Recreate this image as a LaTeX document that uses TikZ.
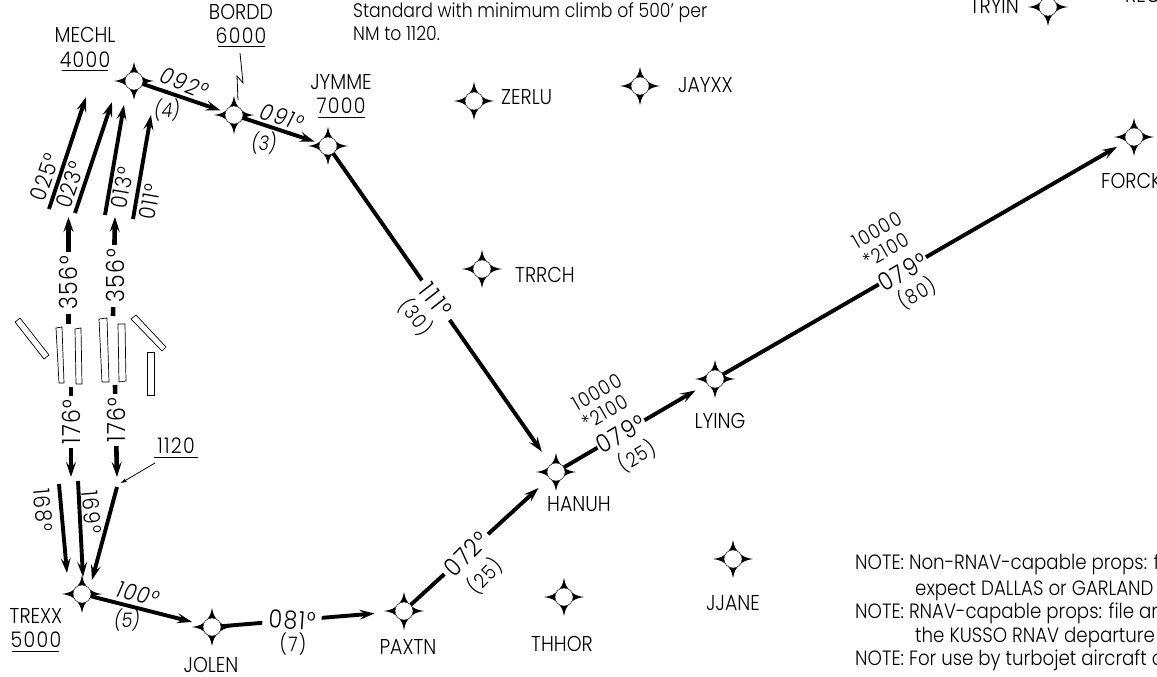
\documentclass[tikz,border=0pt]{standalone}
\usepackage{fontspec}
\setmainfont{Poppins Light}[FakeStretch=0.88]
\newfontfamily\lsfont{Poppins Light}[FakeStretch=0.88,LetterSpace=6]
\usetikzlibrary{arrows.meta}
\newcommand\fsz[1]{\fontsize{#1}{#1}\selectfont}
\tikzset{
  route/.style={line width=3.9pt,-{Stealth[length=15pt,width=10pt,inset=6pt]}},
  lead/.style={line width=0.8pt},
  wpnode/.style={circle,fill=white,draw=black,line width=0.3pt,minimum size=18pt,inner sep=0pt},
  txt/.style={inner sep=0pt,font=\fsz{21.5}},
  num/.style={inner sep=0pt,font=\lsfont\fsz{21.5}},
  brg/.style={inner sep=0pt,font=\lsfont\fsz{22.5}},
  small/.style={inner sep=0pt,font=\lsfont\fsz{20}},
  big/.style={inner sep=0pt,font=\lsfont\fsz{25}},
  slant/.style={inner sep=0pt,font=\lsfont\fsz{23}\itshape},
  slantsmall/.style={inner sep=0pt,font=\fsz{20}\itshape},
  mask/.style={fill=white,inner ysep=0pt},
  rwy/.style={draw=black,fill=white,line width=0.7pt},
  ul/.style={line width=1pt},
  notetext/.style={inner sep=0pt,anchor=base west,font=\fsz{20.7}}
}
\newcommand\waypt[2]{%
  \fill[shift={(#2)}] (0,-19) .. controls (1.2,-12) and (3,-9) .. (6.4,-6.4)
    .. controls (9,-3) and (12,-1.2) .. (20,0)
    .. controls (12,1.2) and (9,3) .. (6.4,6.4)
    .. controls (3,9) and (1.2,12) .. (0,19)
    .. controls (-1.2,12) and (-3,9) .. (-6.4,6.4)
    .. controls (-9,3) and (-12,1.2) .. (-20,0)
    .. controls (-12,-1.2) and (-9,-3) .. (-6.4,-6.4)
    .. controls (-3,-9) and (-1.2,-12) .. (0,-19) -- cycle;
  \node[wpnode] (#1) at (#2) {};}
\begin{document}
\begin{tikzpicture}[x=1pt,y=-1pt]
\useasboundingbox (0,0) rectangle (1157,677);
\clip (0,0) rectangle (1157,677);
% waypoints
\waypt{mechl}{134,81}
\waypt{bordd}{234,115}
\waypt{jymme}{328,146}
\waypt{trexx}{82,594}
\waypt{jolen}{212,627}
\waypt{paxtn}{404,611}
\waypt{hanuh}{556,472}
\waypt{lying}{715,379}
\waypt{forck}{1134,137}
\waypt{tryin}{1048,7}
\waypt{zerlu}{474,101}
\waypt{jayxx}{640,86}
\waypt{trrch}{482,269}
\waypt{thhor}{564,597}
\waypt{jjane}{733,559}
% runways
\draw[rwy] (15,322)--(20,318)--(49,355)--(44,359)--cycle;
\draw[rwy] (56,328)--(62,327)--(64,383)--(59,383)--cycle;
\draw[rwy] (75,329)--(81,328)--(82,384)--(76,384)--cycle;
\draw[rwy] (99,319)--(107,318)--(109,382)--(102,382)--cycle;
\draw[rwy] (118,324)--(125,324)--(126,381)--(119,382)--cycle;
\draw[rwy] (131,319)--(136,315)--(166,347)--(162,351)--cycle;
\draw[rwy] (147,352)--(154,352)--(154,395)--(147,395)--cycle;
% free ends
\coordinate (a1) at (49,209); \coordinate (a2) at (86,97);
\coordinate (b1) at (75,213); \coordinate (b2) at (112,102);
\coordinate (c1) at (105,215); \coordinate (c2) at (124,105);
\coordinate (d1) at (133,219); \coordinate (d2) at (151,115);
\coordinate (e1) at (68.5,324); \coordinate (e2) at (68.5,217);
\coordinate (f1) at (113,316); \coordinate (f2) at (115,217);
\coordinate (g1) at (71,387); \coordinate (g2) at (71,477);
\coordinate (h1) at (115,385); \coordinate (h2) at (117,477);
\coordinate (i1) at (59,484); \coordinate (i2) at (67,573);
\coordinate (j1) at (78,481); \coordinate (j2) at (83,577);
\coordinate (k1) at (117,487); \coordinate (k2) at (92,580);
\coordinate (m1) at (155,463); \coordinate (m2) at (121,483);
\coordinate (z1) at (240,53); \coordinate (z2) at (243,83);
\coordinate (z3) at (237,76); \coordinate (z4) at (238,100);
% connectors
\foreach \p/\q in {a1/a2,b1/b2,c1/c2,d1/d2,i1/i2,j1/j2,k1/k2}
  \draw[route] (\p) -- (\q);
\foreach \p/\q in {e1/e2,f1/f2,g1/g2,h1/h2}
  \draw[route,line width=4.6pt] (\p) -- (\q);
\draw[lead,-{Stealth[length=6pt,width=4pt]}] (m1) -- (m2);
\draw[lead] (z1) -- (z2) -- (z3) -- (z4);
\draw[route,shorten >=5pt] (mechl) -- (bordd);
\draw[route,shorten >=5pt] (bordd) -- (jymme);
\draw[route,shorten >=15.5pt] (jymme) -- (hanuh);
\draw[route,shorten >=11.5pt] (trexx) -- (jolen);
\draw[route,shorten >=20.5pt] (jolen) -- (paxtn);
\draw[route,shorten >=14.5pt] (paxtn) -- (hanuh);
\draw[route,shorten >=13.5pt] (hanuh) -- (lying);
\draw[route,shorten >=10.5pt] (lying) -- (forck);
% names
\node[txt] (tmechl) at (85,35) {MECHL};
\node[num] (amechl) at (85,60) {4000};
\draw[ul] (62,70.5) -- (108,70.5);
\node[txt] (tbordd) at (241,12) {BORDD};
\node[num] (abordd) at (241,36) {6000};
\draw[ul] (218,46.5) -- (265,46.5);
\node[txt] (tjymme) at (341,82) {JYMME};
\node[num] (ajymme) at (341,106) {7000};
\draw[ul] (318,117) -- (365,117);
\node[txt] (ttrexx) at (36,616) {TREXX};
\node[num] (atrexx) at (36,640) {5000};
\draw[ul] (12,651) -- (59,651);
\node[txt] (tjolen) at (211,665) {JOLEN};
\node[txt] (tpaxtn) at (408,647) {PAXTN};
\node[txt] (thanuh) at (579,504) {HANUH};
\node[txt] (tlying) at (720,421) {LYING};
\node[txt,anchor=west] (tforck) at (1101,181) {FORCK};
\node[txt,anchor=east] (ttryin) at (1019,6) {TRYIN};
\node[txt,anchor=west] (trec) at (1125,-5) {REC};
\node[txt,anchor=west] (tzerlu) at (501,97) {ZERLU};
\node[txt,anchor=west] (tjayxx) at (678,85) {JAYXX};
\node[txt,anchor=west] (ttrrch) at (515,275) {TRRCH};
\node[txt] (tthhor) at (562,644) {THHOR};
\node[txt] (tjjane) at (733,603) {JJANE};
\node[num] (t1120) at (176,446) {1120};
\draw[ul] (154,457) -- (198,457);
% masked labels
\node[big,mask,inner xsep=4pt,rotate=90] (l356a) at (68,283) {356°};
\node[big,mask,inner xsep=4pt,rotate=90] (l356b) at (115,276) {356°};
\node[big,mask,inner xsep=3pt,rotate=90] (l176a) at (71,422) {176°};
\node[big,mask,inner xsep=3pt,rotate=90] (l176b) at (116,420) {176°};
\node[big,mask,inner xsep=6pt,rotate=-4] (l081) at (292,620) {081°};
\node[big,mask,inner xsep=4pt,rotate=45] (l072) at (466,554) {072°};
\node[big,mask,inner xsep=1pt,rotate=30] (l079a) at (621,434) {079°};
\node[big,mask,inner xsep=1pt,rotate=30] (l079b) at (903,272) {079°};
\node[big,mask,inner xsep=6pt,rotate=-52] (l111) at (436,300) {1\kern3pt 1\kern3pt 1\kern2pt°};
% plain labels
\node[brg,rotate=71] (l025) at (45,177) {025°};
\node[brg,rotate=71] (l023) at (70,185) {023°};
\node[brg,rotate=80] (l013) at (122,188) {013°};
\node[brg,rotate=80] (l011) at (150,202) {011°};
\node[brg,rotate=-85] (l168) at (43,510) {168°};
\node[brg,rotate=-85] (l169) at (92,512) {169°};
\node[slant,rotate=-22] (l092) at (184,83) {092°};
\node[slant,rotate=-18] (l091) at (282,117) {091°};
\node[slant,rotate=-15] (l100) at (138,594) {100°};
\node[slantsmall] (d4) at (167,110) {(4)};
\node[slantsmall] (d3) at (264,143) {(3)};
\node[slantsmall] (d5) at (127,620) {(5)};
\node[small] (d7) at (293,644) {(7)};
\node[small,rotate=45] (d25a) at (485,576) {(25)};
\node[small,rotate=-52] (d30) at (416,317) {(30)};
\node[small,rotate=30] (d25b) at (637,456) {(25)};
\node[small,rotate=30] (d80) at (917,293) {(80)};
\node[small,rotate=30] (s1) at (605,412) {*2100};
\node[small,rotate=30] (s2) at (597,392) {10000};
\node[small,rotate=30] (s3) at (886,250) {*2100};
\node[small,rotate=30] (s4) at (877,230) {10000};
% notes
\node[notetext,font=\fsz{19.6}] (n0) at (353,18) {Standard with minimum climb of 500’ per};
\node[notetext,font=\fsz{19.6}] (n00) at (353,41) {NM to 1120.};
\node[notetext] (n1) at (855,569) {NOTE: Non-RNAV-capable props: file};
\node[notetext] (n2) at (915,595) {expect DALLAS or GARLAND};
\node[notetext] (n3) at (855,618) {NOTE: RNAV-capable props: file and};
\node[notetext] (n4) at (915,642) {the KUSSO RNAV departure};
\node[notetext] (n5) at (855,665) {NOTE: For use by turbojet aircraft only};
\end{tikzpicture}
\end{document}
